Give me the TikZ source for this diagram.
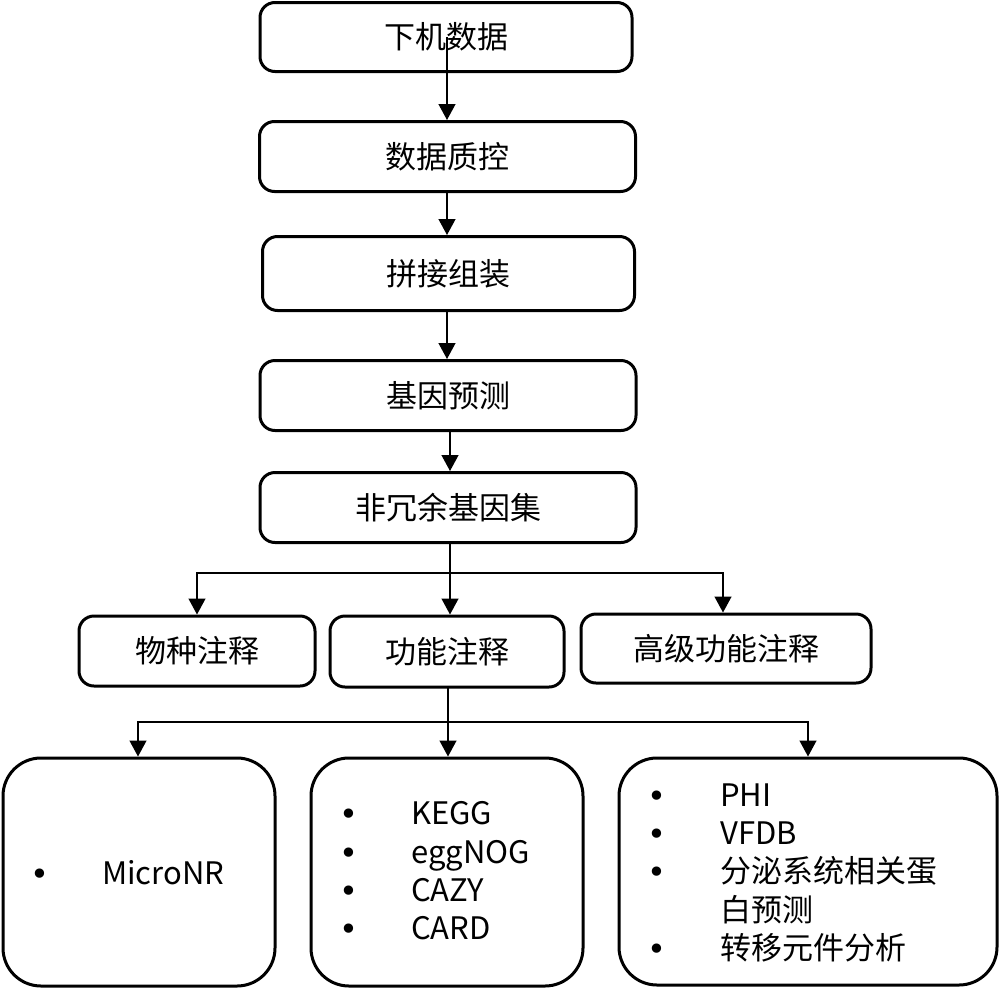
\documentclass[tikz,border=0pt]{standalone}
\usepackage{fontspec}
\setmainfont{Noto Sans CJK SC}
\newfontfamily\bulletfont{DejaVu Sans}
\usetikzlibrary{arrows.meta}
\begin{document}
\begin{tikzpicture}[x=1pt,y=-1pt,
  stepbox/.style={draw, line width=3pt, rounded corners=15pt, inner sep=0pt,
    font=\fontsize{31}{37}\selectfont},
  bigbox/.style={draw, line width=3pt, rounded corners=38pt, inner sep=0pt},
  conn/.style={line width=1.3pt, -{Triangle[width=17pt,length=16pt]}},
  item/.style={anchor=base west, inner sep=0pt, font=\fontsize{31}{37}\selectfont},
  bul/.style={anchor=base, inner sep=0pt, font=\bulletfont\fontsize{32}{36}\selectfont}]
\useasboundingbox (0,0) rectangle (1000,988);
% main chain
\node[stepbox, minimum width=372pt, minimum height=69pt] (a) at (446,37) {下机数据};
\node[stepbox, minimum width=376pt, minimum height=70pt] (b) at (447.5,156.5) {数据质控};
\node[stepbox, minimum width=372pt, minimum height=74pt] (c) at (448.5,273.5) {拼接组装};
\node[stepbox, minimum width=376pt, minimum height=70pt] (d) at (448,395.5) {基因预测};
\node[stepbox, minimum width=376pt, minimum height=70pt] (e) at (448,507.5) {非冗余基因集};
% second row
\node[stepbox, minimum width=236pt, minimum height=70pt] (f) at (197,651) {物种注释};
\node[stepbox, minimum width=234pt, minimum height=71pt] (g) at (447,651.5) {功能注释};
\node[stepbox, minimum width=290pt, minimum height=69pt] (h) at (726,648.5) {高级功能注释};
% bottom boxes
\node[bigbox, minimum width=272pt, minimum height=228pt] (i) at (139,872) {};
\node[bigbox, minimum width=272pt, minimum height=228pt] (j) at (447,872) {};
\node[bigbox, minimum width=378pt, minimum height=227pt] (k) at (808,871.5) {};
% connectors of the chain
\draw[conn] (a.center) ++(1,0) coordinate (a0) -- (a0 |- b.north);
\draw[conn] (447,0 |- b.south) coordinate (b0) -- (b0 |- c.north);
\draw[conn] (447,0 |- c.south) coordinate (c0) -- (c0 |- d.north);
\draw[conn] (450,0 |- d.south) coordinate (d0) -- (d0 |- e.north);
% branch to second row
\coordinate (e0) at (450,543);
\coordinate (eb) at (450,573);
\draw[conn] (e0) -- (e0 |- g.north);
\draw[conn] (eb) -| (f.north);
\draw[conn] (eb) -| (723,0 |- h.north);
% branch to bottom row
\coordinate (g0) at (448,688);
\coordinate (gb) at (448,722);
\draw[conn] (g0) -- (g0 |- j.north);
\draw[conn] (gb) -| (138,0 |- i.north);
\draw[conn] (gb) -| (808,0 |- k.north);
% left box text
\node[bul] (ib1) at (40,885) {•};
\node[item] (it1) at (102,884) {MicroNR};
% middle box text
\node[bul] (jb1) at (349,825) {•};
\node[bul] (jb2) at (349,864) {•};
\node[bul] (jb3) at (349,902) {•};
\node[bul] (jb4) at (349,940) {•};
\node[item] (jt1) at (411,824) {KEGG};
\node[item] (jt2) at (411,863) {eggNOG};
\node[item] (jt3) at (411,901) {CAZY};
\node[item] (jt4) at (411,939) {CARD};
% right box text
\node[bul] (kb1) at (657,807) {•};
\node[bul] (kb2) at (657,845) {•};
\node[bul] (kb3) at (657,883) {•};
\node[bul] (kb4) at (657,960) {•};
\node[item] (kt1) at (720,806) {PHI};
\node[item] (kt2) at (720,844) {VFDB};
\node[item] (kt3) at (720,882) {分泌系统相关蛋};
\node[item] (kt4) at (720,921) {白预测};
\node[item] (kt5) at (720,959) {转移元件分析};
\end{tikzpicture}
\end{document}
